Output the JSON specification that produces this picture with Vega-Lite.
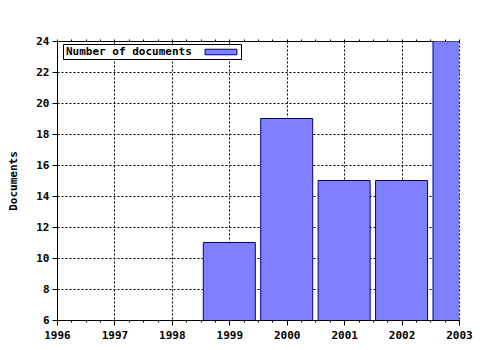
{
  "$schema": "https://vega.github.io/schema/vega-lite/v6.json",
  "autosize": "none",
  "width": 402,
  "height": 279,
  "padding": {"left": 57, "top": 41, "right": 21, "bottom": 30},
  "background": "white",
  "config": {
    "view": {"stroke": null},
    "font": "DejaVu Sans Mono",
    "axis": {
      "labelFont": "DejaVu Sans Mono",
      "labelFontWeight": "bold",
      "labelFontSize": 11,
      "labelColor": "black",
      "titleFont": "DejaVu Sans Mono",
      "titleFontWeight": "bold",
      "titleFontSize": 11,
      "titleColor": "black",
      "domainColor": "black",
      "tickColor": "black",
      "gridColor": "black",
      "gridDash": [2, 2],
      "gridOpacity": 1
    }
  },
  "data": {
    "values": [
      {"year": 1999, "documents": 11},
      {"year": 2000, "documents": 19},
      {"year": 2001, "documents": 15},
      {"year": 2002, "documents": 15},
      {"year": 2003, "documents": 24}
    ]
  },
  "layer": [
    {
      "mark": {"type": "bar", "size": 52, "stroke": "#000080", "strokeWidth": 1, "clip": true},
      "encoding": {
        "x": {
          "field": "year",
          "type": "quantitative",
          "scale": {"domain": [1996, 2003], "nice": false, "zero": false, "padding": 0},
          "axis": {
            "orient": "bottom",
            "title": null,
            "values": [1996, 1996.25, 1996.5, 1996.75, 1997, 1997.25, 1997.5, 1997.75, 1998, 1998.25, 1998.5, 1998.75, 1999, 1999.25, 1999.5, 1999.75, 2000, 2000.25, 2000.5, 2000.75, 2001, 2001.25, 2001.5, 2001.75, 2002, 2002.25, 2002.5, 2002.75, 2003],
            "labelExpr": "datum.value % 1 === 0 ? format(datum.value, 'd') : ''",
            "tickSize": {"condition": {"test": "datum.value % 1 === 0", "value": 5}, "value": 2},
            "gridOpacity": {"condition": {"test": "datum.value % 1 === 0", "value": 1}, "value": 0},
            "grid": true,
            "labelPadding": 4,
            "labelFlush": false,
            "labelOverlap": false
          }
        },
        "y": {
          "field": "documents",
          "type": "quantitative",
          "scale": {"domain": [6, 24], "nice": false, "zero": false, "padding": 0},
          "axis": {
            "title": "Documents",
            "values": [6, 8, 10, 12, 14, 16, 18, 20, 22, 24],
            "grid": true,
            "tickSize": 5,
            "labelPadding": 3,
            "titlePadding": 17
          }
        },
        "color": {
          "datum": "Number of documents",
          "type": "nominal",
          "scale": {"range": ["#8080ff"]},
          "legend": {
            "title": null,
            "orient": "none",
            "legendX": 6,
            "legendY": 3,
            "padding": 2,
            "strokeColor": "black",
            "fillColor": "white",
            "labelFont": "DejaVu Sans Mono",
            "labelFontWeight": "bold",
            "labelFontSize": 11,
            "labelColor": "black",
            "symbolType": "M-2.9,-0.5H2.9V0.5H-2.9Z",
            "symbolSize": 121,
            "symbolStrokeColor": "#000080",
            "symbolStrokeWidth": 1,
            "symbolOpacity": 1,
            "symbolOffset": 150,
            "labelOffset": -161
          }
        }
      }
    },
    {
      "mark": {"type": "rule", "opacity": 0},
      "encoding": {
        "x": {
          "datum": 1996,
          "type": "quantitative",
          "axis": {
            "orient": "top",
            "title": null,
            "labels": false,
            "grid": false,
            "values": [1996, 1996.25, 1996.5, 1996.75, 1997, 1997.25, 1997.5, 1997.75, 1998, 1998.25, 1998.5, 1998.75, 1999, 1999.25, 1999.5, 1999.75, 2000, 2000.25, 2000.5, 2000.75, 2001, 2001.25, 2001.5, 2001.75, 2002, 2002.25, 2002.5, 2002.75, 2003],
            "tickSize": 2
          }
        }
      }
    }
  ],
  "resolve": {"axis": {"x": "independent"}}
}
